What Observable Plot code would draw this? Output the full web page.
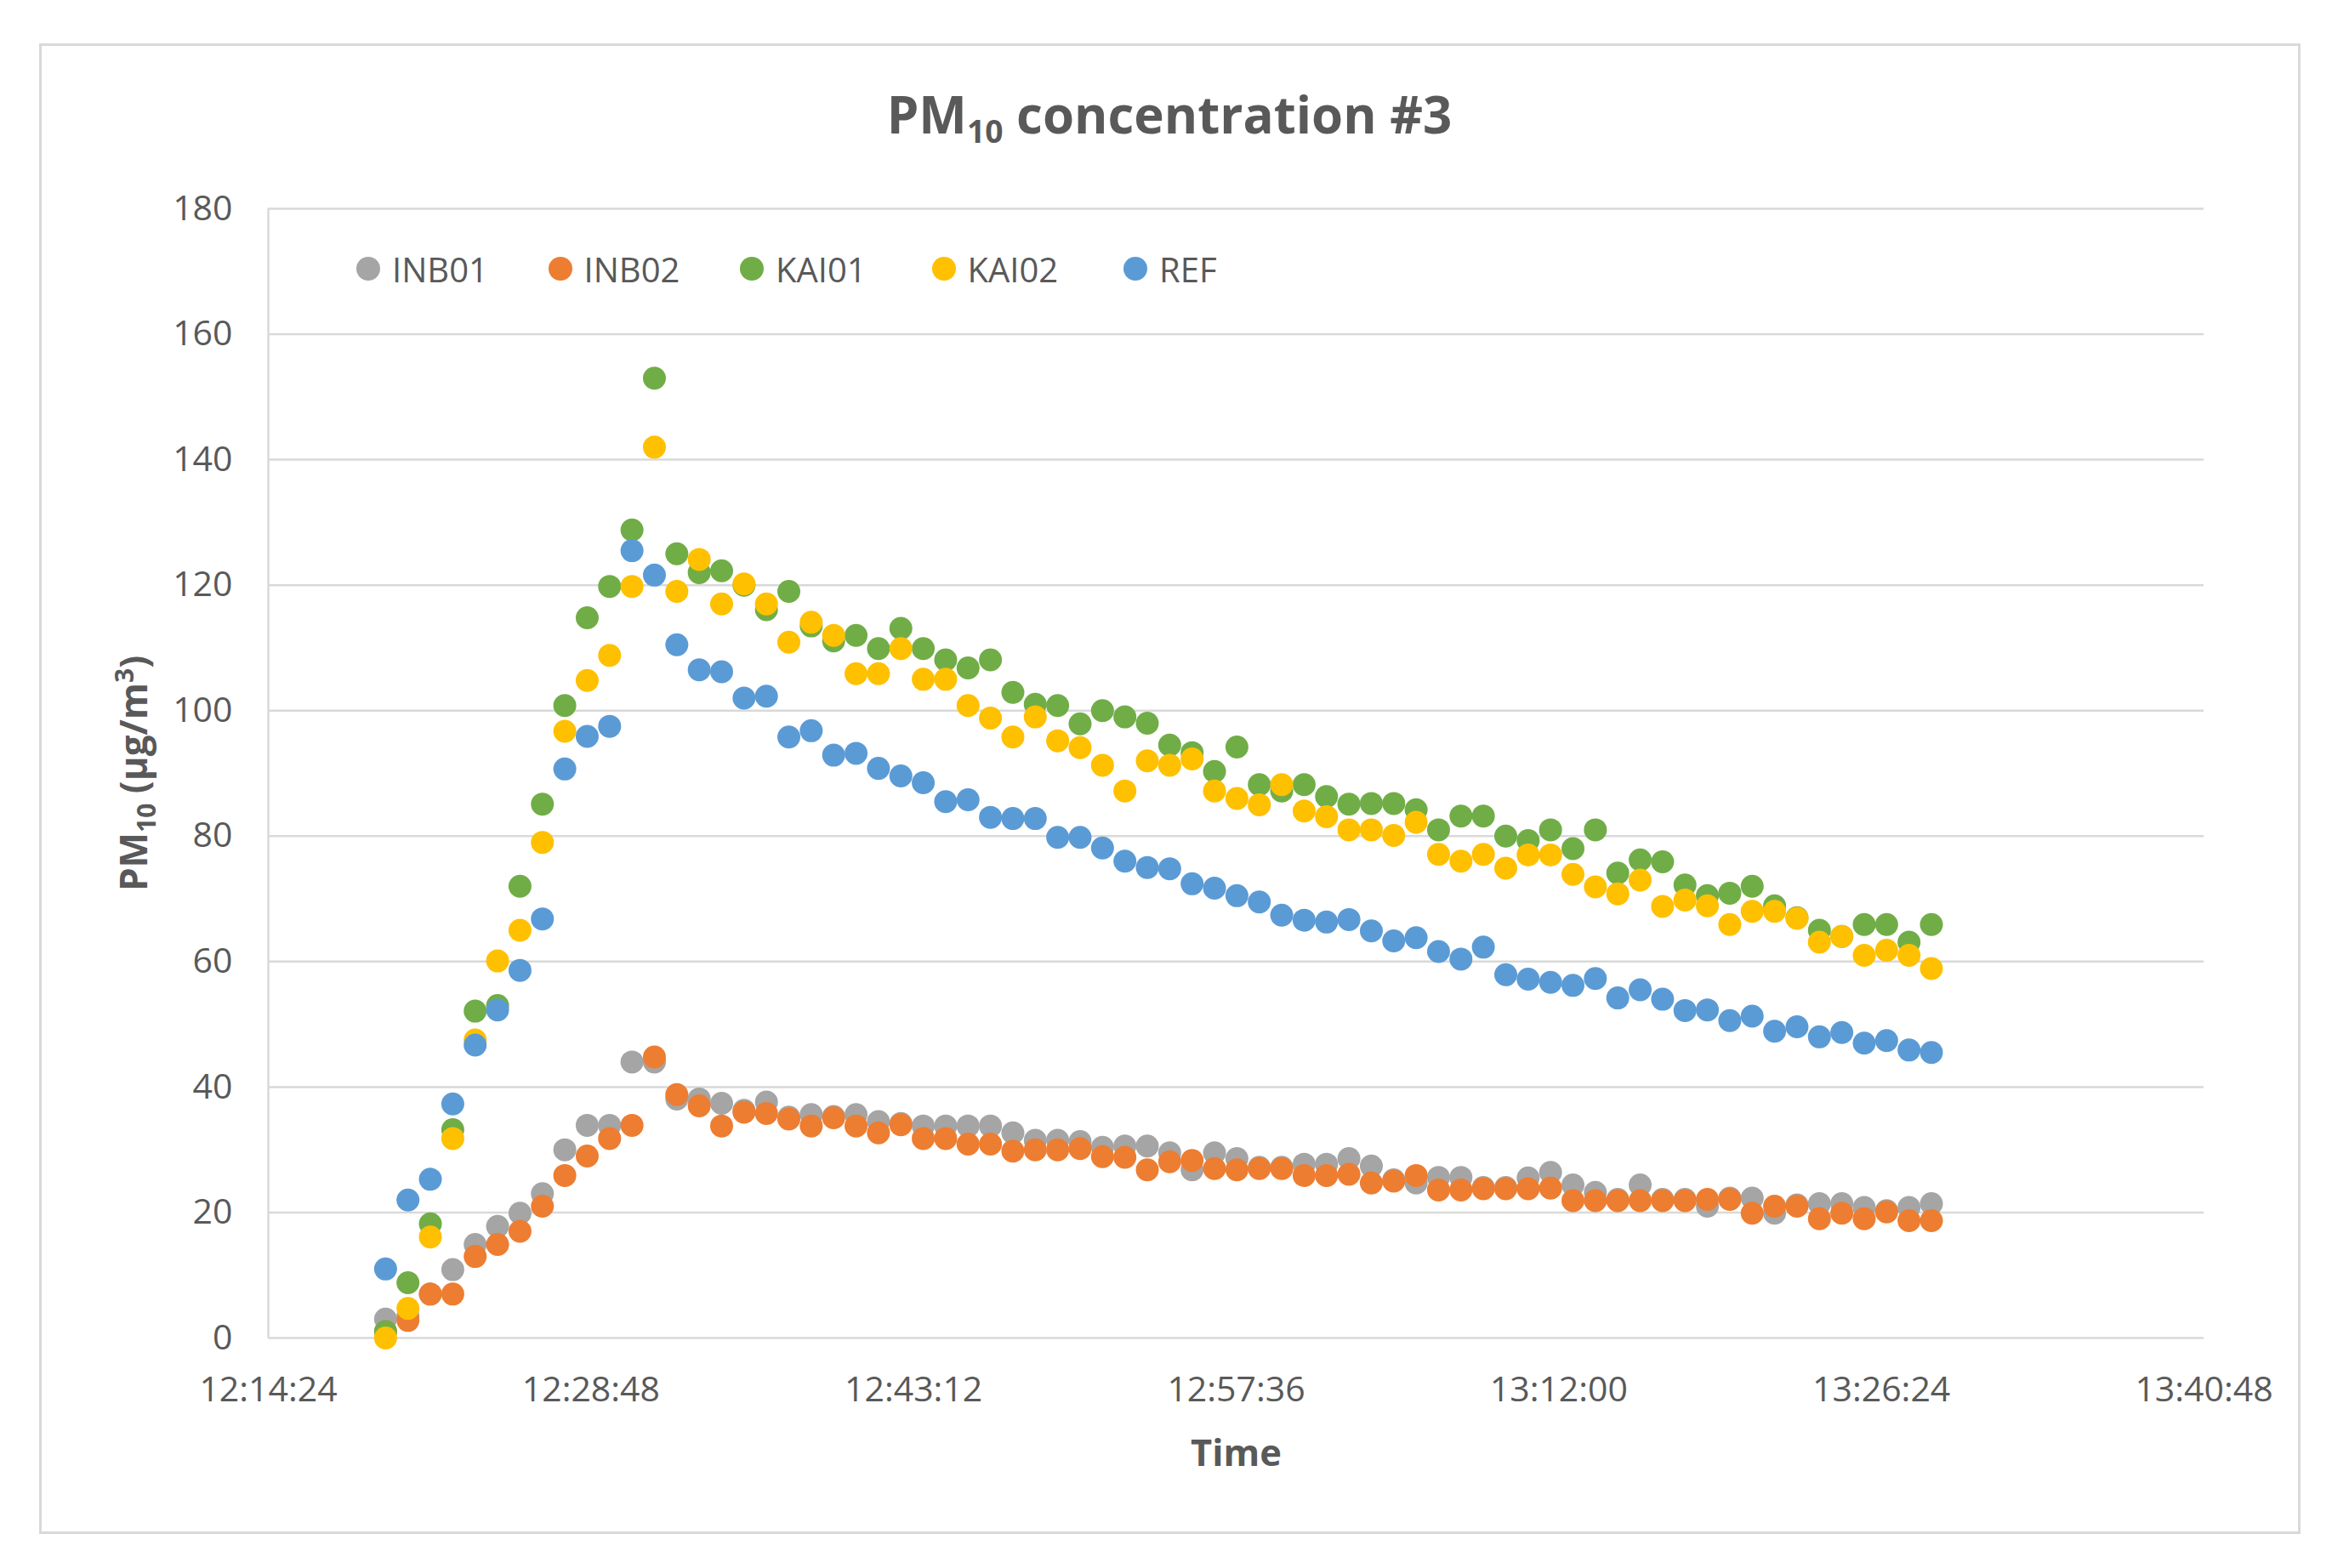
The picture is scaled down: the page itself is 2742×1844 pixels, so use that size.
<!DOCTYPE html>
<html>
<head>
<meta charset="utf-8">
<script src="https://cdn.jsdelivr.net/npm/d3@7"></script>
<script src="https://cdn.jsdelivr.net/npm/@observablehq/plot@0.6"></script>
<style>
  body { margin: 0; background: #fff; font-family: "Open Sans", sans-serif; }
  #wrap { position: relative; width: 2742px; height: 1844px; overflow: hidden; background: #fff; }
  #frame { position: absolute; left: 46px; top: 51px; width: 2653px; height: 1747px; border: 3px solid #D9D9D9; }
  #title { position: absolute; left: 0; width: 2750px; top: 104px; text-align: center; font-size: 60px; font-weight: 700; color: #595959; line-height: 1; }
  #title sub { font-size: 0.62em; vertical-align: -0.3em; line-height: 0; }
  #chart { position: absolute; left: 0; top: 200px; }
  #legend { position: absolute; top: 288px; left: 419px; display: flex; }
  .item { display: flex; align-items: center; width: 225.5px; height: 56px; font-size: 40px; color: #595959; }
  .sw { width: 28px; height: 28px; border-radius: 50%; margin-right: 14px; flex: none; }
</style>
</head>
<body>
<div id="wrap">
  <div id="frame"></div>
  <div id="title">PM<sub>10</sub> concentration #3</div>
  <div id="chart"></div>
  <div id="legend"></div>
</div>
<script>
const seriesNames = ["INB01", "INB02", "KAI01", "KAI02", "REF"];
const seriesColors = ["#A5A5A5", "#ED7D31", "#70AD47", "#FFC000", "#5B9BD5"];

const times = [
  "12:19:38","12:20:38","12:21:38","12:22:38","12:23:38","12:24:38","12:25:38","12:26:38","12:27:38","12:28:38",
  "12:29:38","12:30:38","12:31:38","12:32:38","12:33:38","12:34:38","12:35:38","12:36:38","12:37:38","12:38:38",
  "12:39:38","12:40:38","12:41:38","12:42:38","12:43:38","12:44:38","12:45:38","12:46:38","12:47:38","12:48:38",
  "12:49:38","12:50:38","12:51:38","12:52:38","12:53:38","12:54:38","12:55:38","12:56:38","12:57:38","12:58:38",
  "12:59:38","13:00:38","13:01:38","13:02:38","13:03:38","13:04:38","13:05:38","13:06:38","13:07:38","13:08:38",
  "13:09:38","13:10:38","13:11:38","13:12:38","13:13:38","13:14:38","13:15:38","13:16:38","13:17:38","13:18:38",
  "13:19:38","13:20:38","13:21:38","13:22:38","13:23:38","13:24:38","13:25:38","13:26:38","13:27:38","13:28:38"
];

const INB01 = [3,3.5,7,10.9,14.9,17.8,19.9,23,30,33.9, 33.9,44,44,38.1,38.1,37.4,36.3,37.6,35.2,35.6,
  35.3,35.6,34.5,34.2,33.8,33.8,33.8,33.8,32.7,31.5, 31.5,31.3,30.4,30.6,30.6,29.5,26.8,29.5,28.6,27.2,
  27.2,27.7,27.7,28.6,27.4,25.2,24.7,25.6,25.6,24, 24,25.5,26.4,24.4,23.2,22.1,24.4,22.1,22.1,21,
  22.3,22.3,19.9,21.2,21.4,21.4,20.8,20.3,20.8,21.4];
const INB02 = [1,2.8,7,7,13,14.9,17,21,25.9,29, 31.8,33.9,44.8,38.8,37,33.8,36,35.8,34.9,33.8,
  35.1,33.8,32.7,34,31.8,31.8,30.9,30.9,29.8,30, 30,30.2,28.9,28.8,26.8,28.1,28.3,27,26.8,27,
  27,25.9,25.9,26.1,24.7,25,25.9,23.6,23.6,23.8, 23.8,23.8,23.9,21.9,21.9,21.9,21.9,21.9,21.9,22.1,
  22.1,19.9,21,21,19,19.9,19,20.1,18.7,18.7];
const KAI01 = [1,8.8,18.2,33.2,52.1,53,72,85.1,100.8,114.8, 119.8,128.8,153,125,122,122.3,120,116.1,119,113.5,
  111.1,112,109.9,113.1,109.9,108.1,106.8,108.1,102.9,101, 100.8,97.9,100,99,98,94.5,93.3,90.3,94.2,88.2,
  87.2,88.2,86.3,85.1,85.2,85.2,84.2,81,83.2,83.2, 80,79.3,81,78,81,74.1,76.2,75.9,72.2,70.5,
  70.9,72,68.9,67,65,64,65.9,65.9,63.1,65.9];
const KAI02 = [0,4.7,16.1,31.8,47.5,60.1,65,79,96.7,104.8, 108.8,119.8,142,119,124.1,117,120.2,117,110.9,114.1,
  112,105.9,105.9,109.9,105,105,100.8,98.8,95.8,99, 95.2,94.1,91.3,87.2,92,91.3,92.3,87.2,86,85,
  88.2,84,83.1,81,81,80.1,82.2,77.1,76,77.1, 74.9,77,77,73.9,71.9,70.8,73,68.8,69.8,68.9,
  65.9,68,68,66.9,63.1,64,61,61.8,61,58.9];
const REF = [11,22,25.3,37.3,46.7,52.3,58.6,66.8,90.7,95.9, 97.5,125.5,121.6,110.5,106.5,106.2,102,102.3,95.8,96.8,
  92.9,93.2,90.8,89.6,88.5,85.5,85.8,83,82.8,82.8, 79.8,79.8,78.1,76,75,74.8,72.4,71.7,70.5,69.5,
  67.4,66.6,66.3,66.7,64.9,63.3,63.8,61.6,60.4,62.3, 57.9,57.2,56.7,56.2,57.3,54.2,55.5,54,52.2,52.3,
  50.6,51.3,48.9,49.6,48,48.7,47,47.4,45.9,45.5];

const xTickLabels = ["12:14:24","12:28:48","12:43:12","12:57:36","13:12:00","13:26:24","13:40:48"];
const yTicks = [0,20,40,60,80,100,120,140,160,180];

const toDate = s => new Date("2020-01-01T" + s + "Z");
const seriesValues = [INB01, INB02, KAI01, KAI02, REF];
const data = [];
seriesNames.forEach((name, k) => {
  seriesValues[k].forEach((v, i) => data.push({series: name, time: toDate(times[i]), value: v}));
});
const xTicks = xTickLabels.map(toDate);

const chart = Plot.plot({
  width: 2742,
  height: 1559,
  marginLeft: 315,
  marginRight: 151,
  marginTop: 45,
  marginBottom: 186,
  style: {fontFamily: "Open Sans", fontSize: "41px", color: "#595959", background: "transparent", overflow: "visible"},
  x: {type: "utc", domain: [xTicks[0], xTicks[xTicks.length - 1]], ticks: xTicks,
      tickFormat: d3.utcFormat("%H:%M:%S"), tickSize: 0, tickPadding: 45,
      label: "Time", labelAnchor: "center", labelOffset: 150, labelArrow: "none"},
  y: {domain: [0, 180], ticks: yTicks, tickSize: 0, tickPadding: 42,
      label: "PM10 (µg/m3)", labelAnchor: "center", labelOffset: 174, labelArrow: "none"},
  color: {domain: seriesNames, range: seriesColors},
  marks: [
    Plot.ruleY(yTicks, {stroke: "#D9D9D9", strokeWidth: 2.5}),
    Plot.ruleX([xTicks[0]], {stroke: "#D9D9D9", strokeWidth: 2.5}),
    Plot.dot(data, {x: "time", y: "value", fill: "series", r: 13.5})
  ]
});

// style axis labels
chart.querySelectorAll("text").forEach(t => {
  const s = t.textContent;
  if (s.includes("µg")) {
    t.innerHTML = 'PM<tspan font-size="30" dy="10">10</tspan><tspan dy="-10"> (µg/m</tspan><tspan font-size="30" dy="-16">3</tspan><tspan dy="16">)</tspan>';
    t.setAttribute("font-weight", "bold");
    t.setAttribute("font-size", "44");
    t.setAttribute("fill", "#595959");
  } else if (s === "Time") {
    t.setAttribute("font-weight", "bold");
    t.setAttribute("font-size", "43.5");
    t.setAttribute("fill", "#595959");
  }
});
document.getElementById("chart").appendChild(chart);

// legend
const legend = document.getElementById("legend");
seriesNames.forEach((name, k) => {
  const item = document.createElement("div");
  item.className = "item";
  const sw = document.createElement("span");
  sw.className = "sw";
  sw.style.background = seriesColors[k];
  item.appendChild(sw);
  item.appendChild(document.createTextNode(name));
  legend.appendChild(item);
});
</script>
</body>
</html>
